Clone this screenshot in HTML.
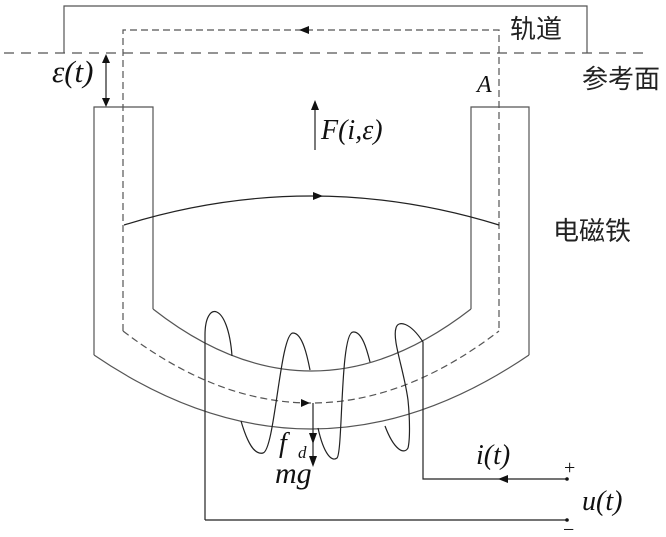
<!DOCTYPE html>
<html><head><meta charset="utf-8"><style>
html,body{margin:0;padding:0;background:#fff;}
svg{display:block;}
text{font-family:"Liberation Serif","Noto Serif CJK SC",serif;fill:#111;}
.cn{font-family:"Liberation Sans","Noto Sans CJK SC",sans-serif;font-size:26px;fill:#222;}
.it{font-style:italic;font-size:28px;}
</style></head><body>
<svg width="666" height="537" viewBox="0 0 666 537" xmlns="http://www.w3.org/2000/svg">
<g fill="none" stroke="#555" stroke-width="1.2">
<polyline points="64,53 64,6 587,6 587,53"/>
<line x1="4" y1="53" x2="645" y2="53" stroke-dasharray="10,7"/>
<path d="M94,355 L94,107 L153,107 L153,309"/>
<path d="M471,309 L471,107 L529,107 L529,355"/>
<path d="M153,309 Q311,433 471,309"/>
<path d="M94,355 Q311,503 529,355"/>
<path d="M123,331 L123,30 L499,30 L499,331" stroke-dasharray="7,4"/>
<path d="M123,331 Q311,475 499,331" stroke-dasharray="7,4"/>
<path d="M124,225 Q311,167 499,225" stroke="#222"/>
<line x1="315" y1="150" x2="315" y2="106" stroke="#222"/>
<line x1="106" y1="60" x2="106" y2="100" stroke="#222"/>
<g stroke="#222">
<path d="M205,520 L205,335 C205,300 228,302 232,356"/>
<path d="M241,421 C248,445 255,455 263,453 C275,450 280,333 293,333 C303,333 308,360 310,370"/>
<path d="M318,428 C324,455 332,462 337,458 C343,452 340,333 353,332 C362,331 367,350 370,362"/>
<path d="M385,426 C394,450 404,455 408,448 C410,440 410,420 408,400 C404,370 392,340 396,328 C398,320 410,322 423,342 L423,479 L567,479"/>
<path d="M205,520 L567,520"/>
</g>
<line x1="313" y1="403" x2="313" y2="440" stroke="#222"/>
<line x1="313" y1="440" x2="313" y2="462" stroke="#222"/>
</g>
<g fill="#111">
<polygon points="299,30 309,26 309,34"/>
<polygon points="315,100 311,110 319,110"/>
<polygon points="106,54 102,63 110,63"/>
<polygon points="106,107 102,98 110,98"/>
<polygon points="323,196 313,192 313,200"/>
<polygon points="310,403 301,399 301,407"/>
<polygon points="313,444 309,433 317,433"/>
<polygon points="313,467 309,456 317,456"/>
<polygon points="498,479 508,475 508,483"/>
<circle cx="567" cy="479" r="1.8"/>
<circle cx="567" cy="520" r="1.8"/>
</g>
<text class="cn" x="510" y="38">轨道</text>
<text class="cn" x="582" y="88">参考面</text>
<text class="cn" x="553" y="240">电磁铁</text>
<text class="it" x="52" y="82" style="font-size:31px">ε(t)</text>
<text class="it" x="477" y="92" style="font-size:24px">A</text>
<text class="it" x="321" y="139">F(i,ε)</text>
<text class="it" x="279" y="452">f</text>
<text class="it" x="298" y="458" style="font-size:17px">d</text>
<text class="it" x="275" y="483" style="font-size:30px">mg</text>
<text class="it" x="476" y="464">i(t)</text>
<text class="it" x="582" y="510">u(t)</text>
<text x="564" y="474" style="font-size:20px">+</text>
<text x="563" y="536" style="font-size:20px">−</text>
</svg>
</body></html>
